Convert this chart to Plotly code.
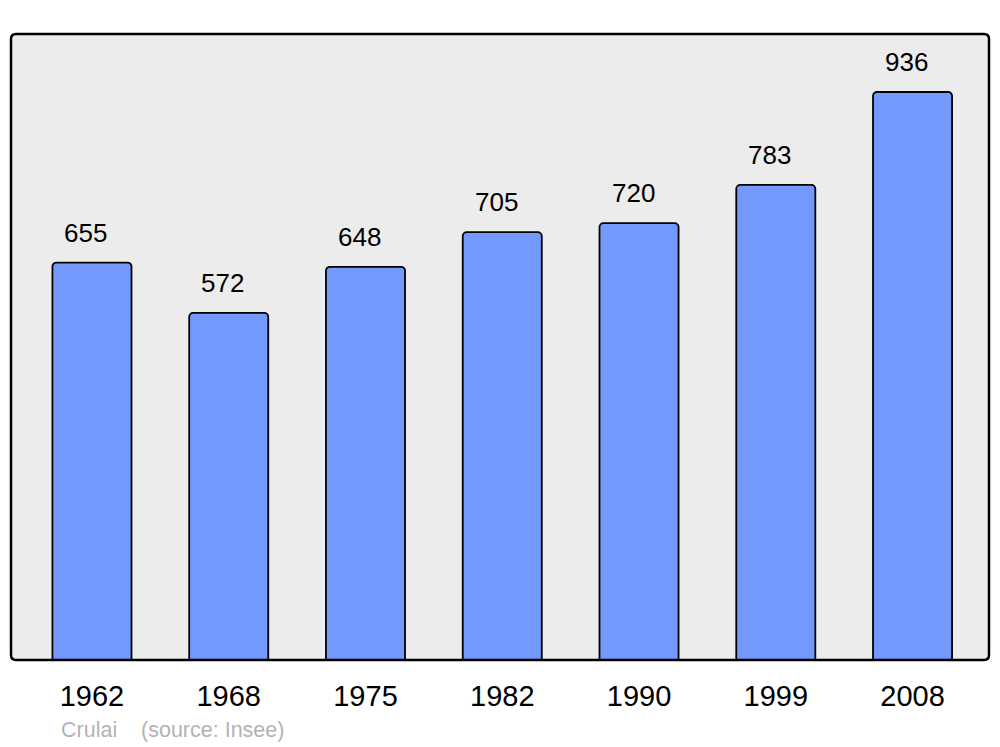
import plotly.graph_objects as go

years = ["1962", "1968", "1975", "1982", "1990", "1999", "2008"]
population = [655, 572, 648, 705, 720, 783, 936]
commune = "Crulai"
source = "(source: Insee)"

# page body has an 8px margin; compensate so the chart sits where the reference does
OFF = 8
W, H = 1000 - OFF, 747 - OFF
ml, mr, mt, mb = 11 - OFF, 11, 34 - OFF, 87
pw, ph = W - ml - mr, H - mt - mb

xs = list(range(len(years)))
FONT = "Liberation Sans, Arial, sans-serif"

fig = go.Figure()
fig.add_trace(go.Bar(
    x=xs, y=population, width=0.578,
    marker=dict(color="#7399ff", line=dict(color="black", width=1.8), cornerradius=4),
    hoverinfo="skip",
))

for x, v in zip(xs, population):
    fig.add_annotation(x=x, y=v, text=str(v), showarrow=False, yanchor="bottom",
                       xshift=-6, yshift=13, font=dict(family=FONT, size=26, color="black"))

fig.add_annotation(xref="paper", yref="paper", x=(59 - 11) / pw, y=(660 - 730) / ph,
                   xanchor="left", yanchor="middle", showarrow=False,
                   text=commune + "&nbsp;&nbsp;&nbsp;&nbsp;" + source,
                   font=dict(family=FONT, size=21.5, color="#b3b3b3"))

# rounded plot border
rx, ry = 5 / pw, 5 / ph
path = (f"M {rx},0 L {1-rx},0 Q 1,0 1,{ry} L 1,{1-ry} Q 1,1 {1-rx},1 "
        f"L {rx},1 Q 0,1 0,{1-ry} L 0,{ry} Q 0,0 {rx},0 Z")
fig.add_shape(type="path", xref="paper", yref="paper", path=path,
              line=dict(color="black", width=2.5), layer="above")

fig.update_layout(
    width=W, height=H, margin=dict(l=ml, r=mr, t=mt, b=mb),
    paper_bgcolor="white", plot_bgcolor="#ececec", showlegend=False,
    font=dict(family=FONT),
    xaxis=dict(range=[-0.592, 6.559], tickmode="array", tickvals=xs, ticktext=years,
               showgrid=False, zeroline=False, ticks="outside", ticklen=10,
               tickcolor="rgba(0,0,0,0)", tickfont=dict(family=FONT, size=29, color="black")),
    yaxis=dict(range=[0, 1031.6], showgrid=False, zeroline=False, showticklabels=False),
)

fig.write_html("out.html")
